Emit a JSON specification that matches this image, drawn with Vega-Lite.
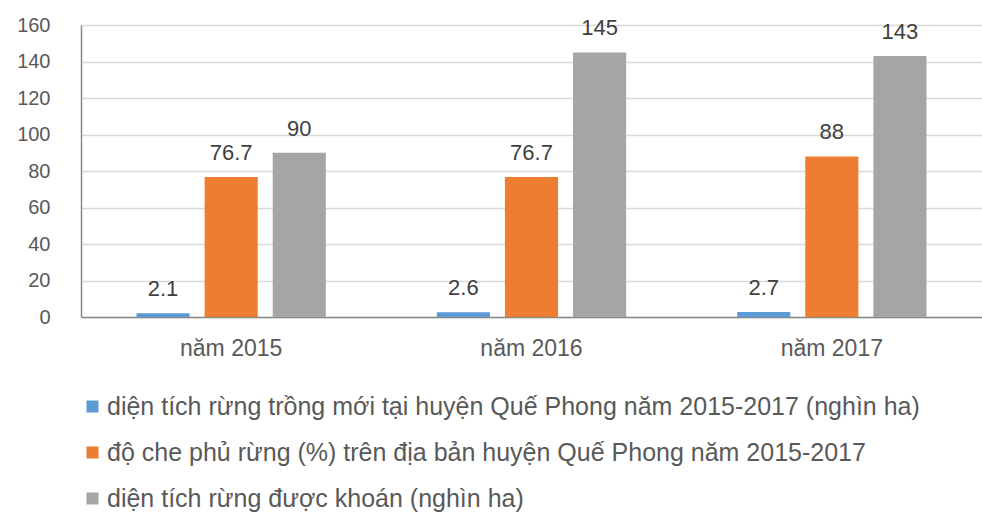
{
  "$schema": "https://vega.github.io/schema/vega-lite/v6.json",
  "autosize": {"type": "none"},
  "padding": {"left": 81, "top": 25, "right": 0, "bottom": 195},
  "width": 901,
  "height": 292,
  "background": "white",
  "config": {
    "view": {"stroke": null},
    "font": "Liberation Sans"
  },
  "data": {
    "values": [
      {"year": "năm 2015", "series": "diện tích rừng trồng mới tại huyện Quế Phong năm 2015-2017 (nghìn ha)", "value": 2.1},
      {"year": "năm 2015", "series": "độ che phủ rừng (%) trên địa bản huyện Quế Phong năm 2015-2017", "value": 76.7},
      {"year": "năm 2015", "series": "diện tích rừng được khoán (nghìn ha)", "value": 90},
      {"year": "năm 2016", "series": "diện tích rừng trồng mới tại huyện Quế Phong năm 2015-2017 (nghìn ha)", "value": 2.6},
      {"year": "năm 2016", "series": "độ che phủ rừng (%) trên địa bản huyện Quế Phong năm 2015-2017", "value": 76.7},
      {"year": "năm 2016", "series": "diện tích rừng được khoán (nghìn ha)", "value": 145},
      {"year": "năm 2017", "series": "diện tích rừng trồng mới tại huyện Quế Phong năm 2015-2017 (nghìn ha)", "value": 2.7},
      {"year": "năm 2017", "series": "độ che phủ rừng (%) trên địa bản huyện Quế Phong năm 2015-2017", "value": 88},
      {"year": "năm 2017", "series": "diện tích rừng được khoán (nghìn ha)", "value": 143}
    ]
  },
  "encoding": {
    "x": {
      "field": "year", "type": "nominal",
      "scale": {"paddingInner": 0, "paddingOuter": 0},
      "axis": {
        "title": null, "labelAngle": 0, "labelFontSize": 23, "labelColor": "#595959",
        "labelPadding": 20, "ticks": false, "domainColor": "#898989", "domainWidth": 1.5, "grid": false
      }
    },
    "xOffset": {
      "field": "series", "type": "nominal",
      "sort": [
        "diện tích rừng trồng mới tại huyện Quế Phong năm 2015-2017 (nghìn ha)",
        "độ che phủ rừng (%) trên địa bản huyện Quế Phong năm 2015-2017",
        "diện tích rừng được khoán (nghìn ha)"
      ],
      "scale": {"paddingInner": 0.22, "paddingOuter": 0.815}
    },
    "y": {
      "field": "value", "type": "quantitative",
      "scale": {"domain": [0, 160], "nice": false},
      "axis": {
        "title": null, "values": [0, 20, 40, 60, 80, 100, 120, 140, 160],
        "labelFontSize": 20, "labelColor": "#595959", "labelPadding": 31,
        "ticks": false, "domain": true, "domainColor": "#898989", "domainWidth": 1.5,
        "gridColor": "#D9D9D9", "gridWidth": 1.5
      }
    }
  },
  "layer": [
    {
      "mark": {"type": "bar"},
      "encoding": {
        "color": {
          "field": "series", "type": "nominal",
          "sort": [
            "diện tích rừng trồng mới tại huyện Quế Phong năm 2015-2017 (nghìn ha)",
            "độ che phủ rừng (%) trên địa bản huyện Quế Phong năm 2015-2017",
            "diện tích rừng được khoán (nghìn ha)"
          ],
          "scale": {"range": ["#5B9BD5", "#ED7D31", "#A5A5A5"]},
          "legend": {
            "title": null, "orient": "none", "direction": "vertical",
            "legendX": -1, "legendY": 369,
            "symbolType": "square", "symbolSize": 144, "symbolStrokeWidth": 0,
            "labelFontSize": 25, "labelColor": "#595959", "labelFont": "Liberation Sans",
            "labelLimit": 1000, "rowPadding": 20, "labelOffset": 2
          }
        }
      }
    },
    {
      "mark": {"type": "text", "baseline": "alphabetic", "dy": -17, "fontSize": 22, "color": "#404040"},
      "encoding": {
        "text": {"field": "value", "type": "quantitative"}
      }
    }
  ]
}
